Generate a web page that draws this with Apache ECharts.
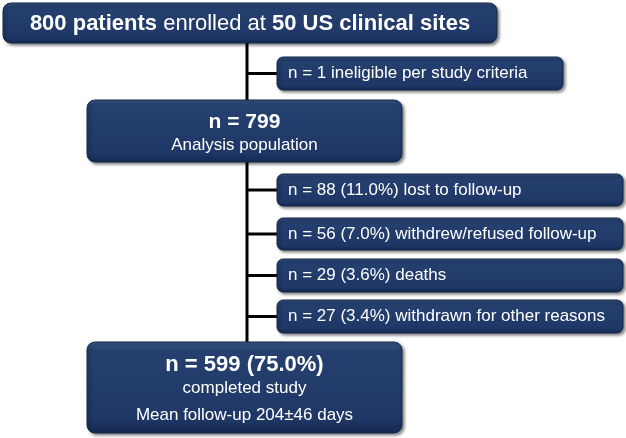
<!DOCTYPE html>
<html>
<head>
<meta charset="utf-8">
<script src="https://cdn.jsdelivr.net/npm/echarts@6/dist/echarts.min.js"></script>
<style>html,body{margin:0;padding:0;background:#fff}#c{width:626px;height:438px}</style>
</head>
<body>
<div id="c"></div>
<script>
// ---- data ----
const enrolledN = 800;
const siteCount = 50;
const ineligibleN = 1;
const analysisN = 799;
const lossReasons = ['lost to follow-up', 'withdrew/refused follow-up', 'deaths', 'withdrawn for other reasons'];
const lossCounts = [88, 56, 29, 27];
const lossPcts = ['11.0', '7.0', '3.6', '3.4'];
const completedN = 599;
const completedPct = '75.0';
const followUpMean = 204;
const followUpSd = 46;

// ---- layout ----
const FONT = '"Liberation Sans", Arial, sans-serif';
const spineX = 247;
const mainBoxes = [
  {x: 3, y: 3, w: 494, h: 40},
  {x: 87, y: 100, w: 315, h: 62},
  {x: 87, y: 342, w: 315, h: 91}
];
const sideX = 277;
const sideBoxes = [
  {y: 57, w: 286, h: 33},
  {y: 174, w: 346, h: 32},
  {y: 218, w: 346, h: 32},
  {y: 259, w: 346, h: 33},
  {y: 300, w: 346, h: 33}
];

function boxRect(x, y, w, h, r) {
  return {
    type: 'rect',
    shape: {x: x, y: y, width: w, height: h, r: r},
    style: {
      fill: new echarts.graphic.LinearGradient(0, 0, 0, 1, [
        {offset: 0, color: '#3d5a8a'},
        {offset: 0.1, color: '#25406f'},
        {offset: 0.85, color: '#1f3766'},
        {offset: 1, color: '#142850'}
      ]),
      stroke: '#15294b',
      lineWidth: 1,
      shadowBlur: 3,
      shadowOffsetX: 2,
      shadowOffsetY: 2,
      shadowColor: 'rgba(0,0,0,0.45)'
    },
    z: 10
  };
}
function txt(x, y, text, size, weight, align, rich) {
  return {
    type: 'text',
    x: x, y: y,
    style: {
      text: text,
      fill: '#ffffff',
      font: weight + ' ' + size + 'px ' + FONT,
      align: align,
      verticalAlign: 'middle',
      rich: rich || undefined
    },
    z: 20
  };
}

const elements = [];
// spine line
elements.push({type: 'line', shape: {x1: spineX, y1: mainBoxes[0].y + mainBoxes[0].h, x2: spineX, y2: mainBoxes[2].y},
  style: {stroke: '#000', lineWidth: 3}, z: 5});
// side connectors
sideBoxes.forEach(function (b) {
  elements.push({type: 'line', shape: {x1: spineX, y1: b.y + b.h / 2, x2: sideX, y2: b.y + b.h / 2},
    style: {stroke: '#000', lineWidth: 3}, z: 5});
});

// main boxes
mainBoxes.forEach(function (b) { elements.push(boxRect(b.x, b.y, b.w, b.h, 8)); });
const b0 = mainBoxes[0], b1 = mainBoxes[1], b2 = mainBoxes[2];
elements.push(txt(250, b0.y + b0.h / 2 + 1,
  '{b|' + enrolledN + ' patients} enrolled at {b|' + siteCount + ' US clinical sites}', 22, 'normal', 'center',
  {b: {fontWeight: 'bold', fontSize: 22, fontFamily: FONT, fill: '#fff'}}));
elements.push(txt(b1.x + b1.w / 2, b1.y + 22, 'n = ' + analysisN, 21, 'bold', 'center'));
elements.push(txt(b1.x + b1.w / 2, b1.y + 45, 'Analysis population', 17, 'normal', 'center'));
elements.push(txt(b2.x + b2.w / 2, b2.y + 23, 'n = ' + completedN + ' (' + completedPct + '%)', 22, 'bold', 'center'));
elements.push(txt(b2.x + b2.w / 2, b2.y + 46, 'completed study', 17, 'normal', 'center'));
elements.push(txt(b2.x + b2.w / 2, b2.y + 73, 'Mean follow-up ' + followUpMean + '\u00b1' + followUpSd + ' days', 17, 'normal', 'center'));

// side boxes
const sideTexts = ['n = ' + ineligibleN + ' ineligible per study criteria'].concat(
  lossCounts.map(function (c, i) { return 'n = ' + c + ' (' + lossPcts[i] + '%) ' + lossReasons[i]; }));
sideBoxes.forEach(function (b, i) {
  elements.push(boxRect(sideX, b.y, b.w, b.h, 6));
  elements.push(txt(sideX + 11, b.y + b.h / 2, sideTexts[i], 17, 'normal', 'left'));
});

const chart = echarts.init(document.getElementById('c'), null, {renderer: 'canvas'});
chart.setOption({
  backgroundColor: '#ffffff',
  animation: false,
  graphic: {elements: elements}
});
</script>
</body>
</html>
